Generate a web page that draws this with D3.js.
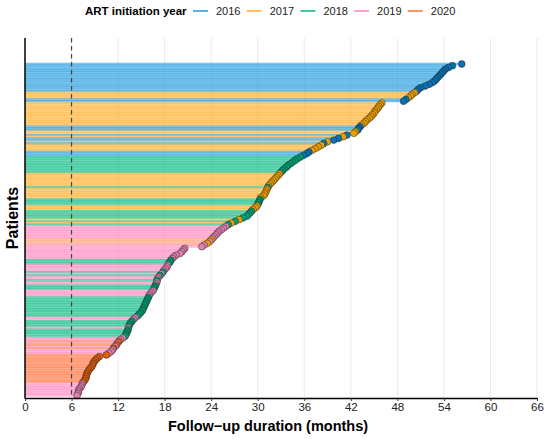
<!DOCTYPE html>
<html>
<head>
<meta charset="utf-8">
<title>Follow-up duration by ART initiation year</title>
<script src="https://d3js.org/d3.v7.min.js"></script>
<style>
  body { margin: 0; background: #fff; }
  svg { font-family: "Liberation Sans", Arial, sans-serif; }
</style>
</head>
<body>
<svg id="chart" width="550" height="439"></svg>
<script>
// legend / colour categories
var yearLabels = ["2016", "2017", "2018", "2019", "2020"];
var lineColors = ["#2c9fe0", "#ffb232", "#12bf88", "#ff8dc2", "#ff7843"];
var dotColors  = ["#0a72b4", "#eea000", "#00a074", "#e07fb2", "#e25e0c"];
var xTicks = [0, 6, 12, 18, 24, 30, 36, 42, 48, 54, 60, 66];
var cutoff = 6; // dashed reference line (months)

// one entry per patient, sorted longest follow-up first (months)
var followUp = [
  56.3, 55.1, 54.6, 54.2, 54.0, 53.8, 53.6, 53.4, 53.2, 53.0, 52.8, 52.5, 52.1, 51.6, 51.0, 50.7, 50.5,
  50.2, 49.9, 49.7, 49.4,
  49.1, 48.8,
  46.0, 45.8, 45.6, 45.5, 45.3, 45.1, 45.0, 44.8, 44.6, 44.4, 44.1, 43.9, 43.7, 43.4,
  43.2, 43.0, 42.9,
  42.6, 42.4,
  41.5, 41.0, 40.4, 39.8, 39.0, 38.5,
  38.2, 37.8, 37.4, 37.0,
  36.6, 36.3, 35.9,
  35.5, 35.1, 34.8, 34.5, 34.2, 33.9, 33.7, 33.4, 33.2, 33.0,
  32.8, 32.6, 32.4, 32.2, 32.0, 31.8, 31.6, 31.4,
  31.3,
  31.2, 31.1, 31.0, 30.9, 30.7, 30.4,
  30.3, 30.2, 30.1, 30.0,
  29.9, 29.7, 29.4,
  29.2, 29.0, 28.8, 28.6,
  28.1, 27.6, 27.1, 26.6, 26.2,
  25.9, 25.6, 25.3, 25.0, 24.8, 24.6, 24.4, 24.2,
  24.0, 23.8, 23.5,
  23.1, 22.8, 20.6, 20.4, 20.2, 20.0, 19.5, 19.2, 19.0,
  18.8, 18.7, 18.5,
  18.4, 18.3, 18.1, 17.9,
  17.8, 17.6, 17.4, 17.2,
  17.1, 17.0, 17.0, 16.9,
  16.8, 16.7, 16.6,
  16.5, 16.3, 16.1, 16.0,
  15.9, 15.8, 15.7, 15.6, 15.5, 15.4, 15.3, 15.2, 15.1, 14.9, 14.7, 14.5,
  14.2, 14.0,
  13.8, 13.6, 13.5, 13.4, 13.3, 13.3, 13.2, 13.1, 13.0, 12.9,
  12.6, 12.3,
  12.1, 11.9, 11.8, 11.6, 11.4, 11.3,
  11.1, 10.8,
  10.5, 9.6, 9.3, 9.1, 8.9, 8.8, 8.7, 8.6, 8.4, 8.2, 8.1, 8.0, 7.9, 7.9, 7.8, 7.7, 7.5,
  7.4, 7.3, 7.2, 7.0, 6.9, 6.9, 6.8, 6.7
];

// ART initiation year of each patient (same order as followUp)
var artYear = [
  2016, 2016, 2016, 2016, 2016, 2016, 2016, 2016, 2016, 2016, 2016, 2016, 2016, 2016, 2016, 2016, 2016,
  2017, 2017, 2017, 2017,
  2016, 2016,
  2017, 2017, 2017, 2017, 2017, 2017, 2017, 2017, 2017, 2017, 2017, 2017, 2017, 2017,
  2016, 2016, 2016,
  2017, 2017,
  2016, 2017, 2016, 2016, 2017, 2016,
  2017, 2017, 2017, 2017,
  2016, 2016, 2016,
  2018, 2018, 2018, 2018, 2018, 2018, 2018, 2018, 2018, 2018,
  2017, 2017, 2017, 2017, 2017, 2017, 2017, 2017,
  2018,
  2017, 2017, 2017, 2017, 2017, 2017,
  2018, 2018, 2018, 2018,
  2017, 2017, 2017,
  2018, 2018, 2018, 2018,
  2018, 2017, 2018, 2017, 2018,
  2019, 2019, 2019, 2019, 2019, 2019, 2019, 2019,
  2017, 2019, 2017,
  2019, 2019, 2019, 2019, 2019, 2019, 2019, 2019, 2019,
  2018, 2018, 2018,
  2019, 2019, 2019, 2019,
  2018, 2019, 2018, 2019,
  2019, 2018, 2019, 2019,
  2018, 2018, 2018,
  2019, 2019, 2019, 2019,
  2018, 2018, 2018, 2018, 2018, 2018, 2018, 2018, 2018, 2018, 2018, 2018,
  2019, 2019,
  2018, 2018, 2018, 2018, 2019, 2018, 2018, 2018, 2018, 2018,
  2019, 2019,
  2020, 2019, 2020, 2019, 2020, 2019,
  2019, 2019,
  2020, 2020, 2020, 2020, 2020, 2020, 2020, 2020, 2020, 2020, 2020, 2020, 2020, 2020, 2020, 2020, 2020,
  2019, 2019, 2019, 2019, 2019, 2019, 2019, 2019
];

var patients = followUp.map(function(d, i) {
  return {id: i, months: d, year: String(artYear[i])};
});

var svg = d3.select("#chart"),
    margin = {top: 38, right: 13, bottom: 41, left: 25},
    width = +svg.attr("width") - margin.left - margin.right,
    height = +svg.attr("height") - margin.top - margin.bottom,
    g = svg.append("g").attr("transform", "translate(" + margin.left + "," + margin.top + ")");

var x = d3.scaleLinear()
    .domain([0, 66])
    .range([0, width]);

var y = d3.scaleLinear()
    .domain([0, patients.length - 1])
    .range([26, height - 2.5]);

var lineColor = d3.scaleOrdinal().domain(yearLabels).range(lineColors);
var dotColor = d3.scaleOrdinal().domain(yearLabels).range(dotColors);

// vertical grid
g.append("g")
  .selectAll("line")
  .data(xTicks.slice(1))
  .join("line")
    .attr("x1", d => x(d)).attr("x2", d => x(d))
    .attr("y1", 0).attr("y2", height)
    .attr("stroke", "#ebebeb")
    .attr("stroke-width", 1);

// one segment per patient
g.append("g")
  .selectAll("line")
  .data(patients)
  .join("line")
    .attr("x1", x(0))
    .attr("x2", d => x(d.months))
    .attr("y1", d => y(d.id))
    .attr("y2", d => y(d.id))
    .attr("stroke", d => lineColor(d.year))
    .attr("stroke-opacity", 0.62)
    .attr("stroke-width", 2.3);

// 6-month reference
g.append("line")
    .attr("x1", x(cutoff)).attr("x2", x(cutoff))
    .attr("y1", 0).attr("y2", height)
    .attr("stroke", "#444")
    .attr("stroke-width", 1.2)
    .attr("stroke-dasharray", "4.5,3.5");

// end-of-follow-up points
g.append("g")
  .selectAll("circle")
  .data(patients)
  .join("circle")
    .attr("cx", d => x(d.months))
    .attr("cy", d => y(d.id))
    .attr("r", 3.4)
    .attr("fill", d => dotColor(d.year))
    .attr("stroke", "#1a1a1a")
    .attr("stroke-opacity", 0.75)
    .attr("stroke-width", 0.6);

// axes
var xAxis = g.append("g")
    .attr("transform", "translate(0," + height + ")")
    .call(d3.axisBottom(x).tickValues(xTicks).tickSize(3).tickPadding(2).tickSizeOuter(0));
xAxis.select(".domain").attr("stroke", "#000").attr("stroke-width", 1.5);
xAxis.selectAll(".tick line").attr("stroke", "#333");
xAxis.selectAll(".tick text")
    .attr("font-family", "Liberation Sans, Arial, sans-serif")
    .attr("font-size", 11.5)
    .attr("fill", "#222");

g.append("line")
    .attr("x1", 0).attr("x2", 0)
    .attr("y1", 0).attr("y2", height + 0.75)
    .attr("stroke", "#000")
    .attr("stroke-width", 1.5);

svg.append("text")
    .attr("x", 268)
    .attr("y", 431)
    .attr("text-anchor", "middle")
    .attr("font-weight", "bold")
    .attr("font-size", 14.5)
    .attr("fill", "#000")
    .text("Follow\u2212up duration (months)");

svg.append("text")
    .attr("transform", "translate(18," + (margin.top + height / 2) + ") rotate(-90)")
    .attr("text-anchor", "middle")
    .attr("font-weight", "bold")
    .attr("font-size", 16)
    .attr("fill", "#000")
    .text("Patients");

// legend
var legend = svg.append("g").attr("transform", "translate(0,15)");
legend.append("text")
    .attr("x", 85)
    .attr("y", 0)
    .attr("font-weight", "bold")
    .attr("font-size", 11.5)
    .attr("fill", "#000")
    .text("ART initiation year");

var item = legend.selectAll(".item")
  .data(yearLabels)
  .join("g")
    .attr("class", "item")
    .attr("transform", (d, i) => "translate(" + (193 + i * 53.7) + ",0)");
item.append("line")
    .attr("x1", 0).attr("x2", 15)
    .attr("y1", -4).attr("y2", -4)
    .attr("stroke", d => lineColor(d))
    .attr("stroke-width", 1.6);
item.append("text")
    .attr("x", 23)
    .attr("y", 0)
    .attr("font-size", 11)
    .attr("fill", "#222")
    .text(d => d);
</script>
</body>
</html>
